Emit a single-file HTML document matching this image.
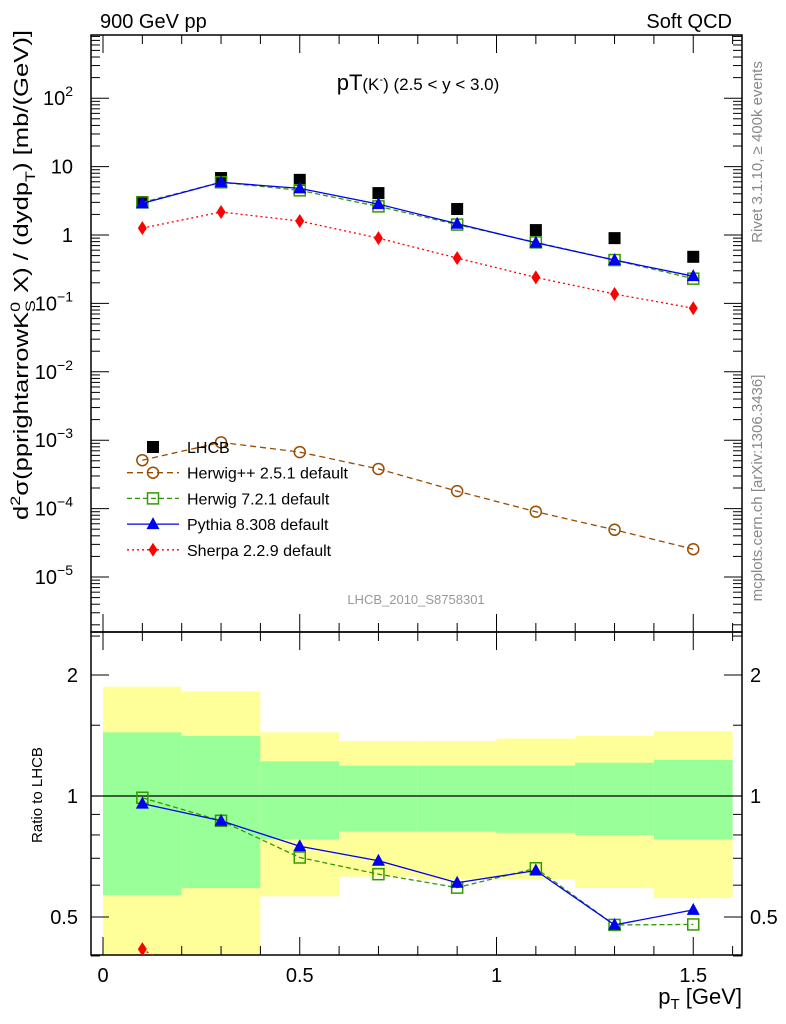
<!DOCTYPE html>
<html><head><meta charset="utf-8"><style>
html,body{margin:0;padding:0;background:#fff;overflow:hidden;width:786px;height:1024px;}
svg{display:block;font-family:"Liberation Sans",sans-serif;}
</style></head><body>
<svg id="c" width="786" height="1024" viewBox="0 0 786 1024" xmlns="http://www.w3.org/2000/svg">
<text x="100" y="28" font-size="20">900 GeV pp</text>
<text x="732" y="28" font-size="20" text-anchor="end">Soft QCD</text>
<text x="418" y="90" font-size="22" text-anchor="middle">pT<tspan font-size="17">(K</tspan><tspan font-size="11" dy="-7">-</tspan><tspan font-size="17" dy="7">)</tspan><tspan font-size="17"> (2.5 &lt; y &lt; 3.0)</tspan></text>
<text transform="translate(28,275) rotate(-90)" font-size="20" text-anchor="middle" textLength="490" lengthAdjust="spacingAndGlyphs">d<tspan font-size="14" dy="-8">2</tspan><tspan dy="8">σ(pprightarrowK</tspan><tspan font-size="14" dy="-8">0</tspan><tspan font-size="14" dy="15" dx="-8">S</tspan><tspan dy="-7"> X) / (dydp</tspan><tspan font-size="14" dy="7">T</tspan><tspan dy="-7">) [mb/(GeV)]</tspan></text>
<text transform="translate(42,795) rotate(-90)" font-size="15" text-anchor="middle">Ratio to LHCB</text>
<text transform="translate(762,152) rotate(-90)" font-size="15" fill="#888" text-anchor="middle">Rivet 3.1.10, ≥ 400k events</text>
<text transform="translate(762,488) rotate(-90)" font-size="15" fill="#888" text-anchor="middle">mcplots.cern.ch [arXiv:1306.3436]</text>
<text x="416" y="604" font-size="13" fill="#999" text-anchor="middle">LHCB_2010_S8758301</text>
<text x="742" y="1004" font-size="22" text-anchor="end">p<tspan font-size="15" dy="5">T</tspan><tspan dy="-5"> [GeV]</tspan></text>
<g id="g"></g>
</svg>
<script>
const xCenters=[0.1,0.3,0.5,0.7,0.9,1.1,1.3,1.5];
const binEdges=[0,0.2,0.4,0.6,0.8,1.0,1.2,1.4,1.6];
const lhcb=[3.03,6.8,6.4,4.1,2.4,1.18,0.90,0.48];
const herwigpp=[5.1e-4,9.3e-4,6.7e-4,3.8e-4,1.8e-4,9.0e-5,4.9e-5,2.55e-5];
const herwig7=[3.0,5.9,4.5,2.62,1.42,0.78,0.43,0.23];
const pythia=[2.9,5.9,4.8,2.83,1.46,0.77,0.43,0.25];
const sherpa=[1.26,2.17,1.6,0.9,0.46,0.24,0.137,0.085];
const band1Hi=[1.44,1.41,1.22,1.19,1.19,1.19,1.21,1.23];
const band1Lo=[0.567,0.59,0.78,0.815,0.815,0.81,0.80,0.78];
const band2Hi=[1.87,1.82,1.44,1.37,1.37,1.39,1.41,1.45];
const band2Lo=[0.3,0.3,0.563,0.63,0.62,0.62,0.59,0.557];
const xTicks=[0,0.5,1,1.5];
const xTickLabels=["0","0.5","1","1.5"];
const yDecades=[-5,-4,-3,-2,-1,0,1,2];
const ratioTicks=[0.5,1,2];
const ratioTickLabels=["0.5","1","2"];

const NS="http://www.w3.org/2000/svg";
const G=document.getElementById('g');
function mk(t,a,p){const e=document.createElementNS(NS,t);for(const k in a)e.setAttribute(k,a[k]);(p||G).appendChild(e);return e;}
const L=91,R=742,T1=35,B1=632,T2=632,B2=955;
const X=v=>103+v*393.5;
const Y=v=>235-Math.log10(v)*68.4;
const YR=v=>796-Math.log2(v)*121;
const clampR=y=>Math.max(T2,Math.min(B2,y));

for(let i=0;i<xCenters.length;i++){
  const x0=X(binEdges[i]),x1=X(binEdges[i+1]);
  let y0=clampR(YR(band2Hi[i])),y1=clampR(YR(band2Lo[i]));
  let r=mk('rect',{x:x0,y:y0,width:x1-x0,height:y1-y0,fill:'#ffff99'});
  
  
  y0=clampR(YR(band1Hi[i]));y1=clampR(YR(band1Lo[i]));
  r=mk('rect',{x:x0,y:y0,width:x1-x0,height:y1-y0,fill:'#99ff99'});
  
  
}
mk('line',{x1:L,x2:R,y1:YR(1),y2:YR(1),stroke:'#000','stroke-width':1.2});

let f=mk('rect',{x:L,y:T1,width:R-L,height:B1-T1,fill:'none',stroke:'#000','stroke-width':1.5});


f=mk('rect',{x:L,y:T2,width:R-L,height:B2-T2,fill:'none',stroke:'#000','stroke-width':1.5});



for(let k=0;k<=16;k++){
  const v=k/10,x=X(v),maj=(k%5===0),len=maj?18:9;
  [[T1,1],[B1,-1],[T2,1],[B2,-1]].forEach(([y,d])=>mk('line',{x1:x,x2:x,y1:y,y2:y+d*len,stroke:'#000','stroke-width':1}));
}
xTicks.forEach((v,i)=>{const t=mk('text',{x:X(v),y:982,'font-size':20,'text-anchor':'middle'});t.textContent=xTickLabels[i];

});

for(let d=-6;d<=2;d++){
  for(let m=1;m<=9;m++){
    const v=m*Math.pow(10,d),y=Y(v);
    if(y<T1||y>B1)continue;
    const len=m===1?18:9;
    mk('line',{x1:L,x2:L+len,y1:y,y2:y,stroke:'#000'});
    mk('line',{x1:R,x2:R-len,y1:y,y2:y,stroke:'#000'});
  }
}
yDecades.forEach(d=>{
  const t=mk('text',{x:73,y:Y(Math.pow(10,d))+7,'font-size':20,'text-anchor':'end'});
  
  
  if(d===0)t.textContent='1';else if(d===1)t.textContent='10';
  else{t.textContent='10';const s=document.createElementNS(NS,'tspan');s.setAttribute('font-size',14);s.setAttribute('dy',-9);s.textContent=(d<0?'\u2212'+(-d):String(d));t.appendChild(s);}
});

[0.4,0.5,0.6,0.7,0.8,0.9,1,1.5,2,2.5].forEach(v=>{const y=YR(v);const len=(v===0.5||v===1||v===2)?18:9;
  mk('line',{x1:L,x2:L+len,y1:y,y2:y,stroke:'#000'});mk('line',{x1:R,x2:R-len,y1:y,y2:y,stroke:'#000'});});
ratioTicks.forEach((v,i)=>{
  let t=mk('text',{x:78,y:YR(v)+7,'font-size':20,'text-anchor':'end'});t.textContent=ratioTickLabels[i];
  
  
  t=mk('text',{x:750,y:YR(v)+7,'font-size':20});t.textContent=ratioTickLabels[i];
  
  
});

function marker(type,x,y,col,p){
  let e;
  if(type==='sq')e=mk('rect',{x:x-6,y:y-6,width:12,height:12,fill:'#000'},p);
  if(type==='osq')e=mk('rect',{x:x-5.5,y:y-5.5,width:11,height:11,fill:'none',stroke:col,'stroke-width':1.5},p);
  if(type==='oc')e=mk('circle',{cx:x,cy:y,r:5.5,fill:'none',stroke:col,'stroke-width':1.5},p);
  if(type==='tri')e=mk('path',{d:`M${x},${y-7}L${x+6.5},${y+5}L${x-6.5},${y+5}Z`,fill:col},p);
  if(type==='dia')e=mk('path',{d:`M${x},${y-7}L${x+4.5},${y}L${x},${y+7}L${x-4.5},${y}Z`,fill:col},p);
  return e;
}
const dg=mk('g',{});


lhcb.forEach((v,i)=>{const e=marker('sq',X(xCenters[i]),Y(v),'#000',dg);
  
  });
const series=[
 {n:'herwigpp',v:herwigpp,c:'#994c00',m:'oc',dash:'6,4'},
 {n:'herwig7',v:herwig7,c:'#339900',m:'osq',dash:'5,3'},
 {n:'pythia',v:pythia,c:'#0000ee',m:'tri',dash:''},
 {n:'sherpa',v:sherpa,c:'#ff0000',m:'dia',dash:'2,3'}];
series.forEach(s=>{
  const g=mk('g',{});
  
  
  const pts=s.v.map((v,i)=>X(xCenters[i])+','+Y(v)).join(' ');
  mk('polyline',{points:pts,fill:'none',stroke:s.c,'stroke-width':1.3,'stroke-dasharray':s.dash},g);
  s.v.forEach((v,i)=>{const e=marker(s.m,X(xCenters[i]),Y(v),s.c,g);
    
    });
  const rg=mk('g',{});
  
  
  const cp=mk('clipPath',{id:'cp-'+s.n},rg);mk('rect',{x:L,y:T2,width:R-L,height:B2-T2},cp);
  const inner=mk('g',{'clip-path':'url(#cp-'+s.n+')'},rg);
  const rp=s.v.map((v,i)=>X(xCenters[i])+','+YR(v/lhcb[i])).join(' ');
  mk('polyline',{points:rp,fill:'none',stroke:s.c,'stroke-width':1.3,'stroke-dasharray':s.dash},inner);
  s.v.forEach((v,i)=>{const y=YR(v/lhcb[i]);if(y>B2+8||y<T2-8)return;const e=marker(s.m,X(xCenters[i]),y,s.c,inner);
    
    });
});

const leg=[['LHCB','sq','#000',''],['Herwig++ 2.5.1 default','oc','#994c00','6,4'],['Herwig 7.2.1 default','osq','#339900','5,3'],['Pythia 8.308 default','tri','#0000ee',''],['Sherpa 2.2.9 default','dia','#ff0000','2,3']];
leg.forEach((l,i)=>{
  const y=447+i*25.7;
  const g=mk('g',{});
  
  
  if(i>0)mk('line',{x1:127,x2:179,y1:y,y2:y,stroke:l[2],'stroke-width':1.3,'stroke-dasharray':l[3]},g);
  marker(l[1],153,y,l[2],g);
  const t=mk('text',{x:187,y:y+6,'font-size':16},g);t.textContent=l[0];
});
</script>
</body></html>
